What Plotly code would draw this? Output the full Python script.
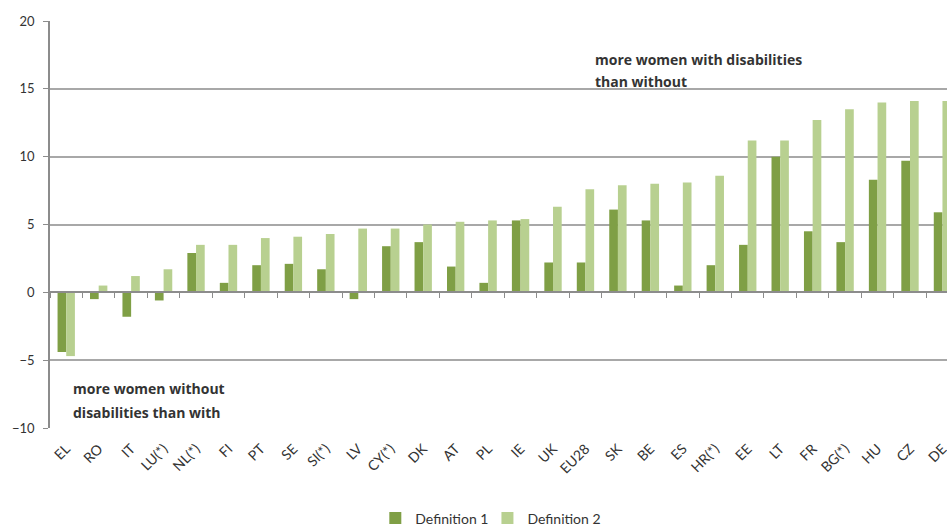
import plotly.graph_objects as go

# Countries, ordered by the Definition 2 gap
countries = ["EL", "RO", "IT", "LU(*)", "NL(*)", "FI", "PT", "SE", "SI(*)", "LV",
             "CY(*)", "DK", "AT", "PL", "IE", "UK", "EU28", "SK", "BE", "ES",
             "HR(*)", "EE", "LT", "FR", "BG(*)", "HU", "CZ", "DE"]

definition_1 = [-4.4, -0.5, -1.8, -0.6, 2.9, 0.7, 2.0, 2.1, 1.7, -0.5,
                3.4, 3.7, 1.9, 0.7, 5.3, 2.2, 2.2, 6.1, 5.3, 0.5,
                2.0, 3.5, 10.0, 4.5, 3.7, 8.3, 9.7, 5.9]

definition_2 = [-4.7, 0.5, 1.2, 1.7, 3.5, 3.5, 4.0, 4.1, 4.3, 4.7,
                4.7, 5.0, 5.2, 5.3, 5.4, 6.3, 7.6, 7.9, 8.0, 8.1,
                8.6, 11.2, 11.2, 12.7, 13.5, 14.0, 14.1, 14.1]

y_ticks = [-10, -5, 0, 5, 10, 15, 20]

DARK = "#7f9f45"
LIGHT = "#b8d090"
GRID = "#a8a8a8"
AXIS = "#8c8c8c"
TEXT = "#333333"
FONT = "Lato"
NOTE_FONT = "Open Sans"

fig = go.Figure()
fig.add_trace(go.Bar(name="Definition 1", x=countries, y=definition_1,
                     marker=dict(color=DARK, line=dict(width=0)), legend="legend"))
fig.add_trace(go.Bar(name="Definition 2", x=countries, y=definition_2,
                     marker=dict(color=LIGHT, line=dict(width=0)), legend="legend2"))
# carrier for the axis drawn along the zero line
fig.add_trace(go.Scatter(x=countries, y=definition_1, mode="none", xaxis="x2",
                         showlegend=False, hoverinfo="skip"))

# the last category runs past the right edge of the plot
x_range = [-0.5, 27.14]
y_min, y_max = -10, 20

legend_style = dict(orientation="h", xanchor="center",
                    yref="container", y=0.0143, yanchor="middle",
                    font=dict(family=FONT, size=14, color=TEXT),
                    itemwidth=30, bgcolor="rgba(0,0,0,0)")

fig.update_layout(
    template="none",
    width=947, height=526,
    margin=dict(l=50, r=0, t=21, b=98, pad=0),
    paper_bgcolor="white", plot_bgcolor="white",
    barmode="group", bargap=0.465, bargroupgap=0,
    font=dict(family=FONT, size=12, color=TEXT),
    xaxis=dict(type="category", categoryarray=countries, range=x_range,
               automargin=False, ticklabelstandoff=9,
               tickangle=-45, tickfont=dict(family=FONT, size=14, color=TEXT),
               showgrid=False, showline=False, ticks="", zeroline=False),
    xaxis2=dict(type="category", categoryarray=countries, range=x_range,
                overlaying="x", anchor="free", automargin=False,
                position=(0 - y_min) / (y_max - y_min),
                showticklabels=False, showgrid=False, zeroline=False,
                showline=True, linecolor=AXIS, linewidth=1.5,
                ticks="outside", tickson="boundaries", ticklen=5,
                tickcolor=AXIS, tickwidth=1),
    yaxis=dict(range=[y_min, y_max], tickvals=y_ticks, automargin=False,
               ticklabelstandoff=6,
               tickfont=dict(family=FONT, size=13, color=TEXT),
               showgrid=True, gridcolor=GRID, gridwidth=1.5,
               zeroline=False, showline=True, linecolor=AXIS, linewidth=1.5,
               ticks="outside", ticklen=5, tickcolor=AXIS, tickwidth=1),
    legend=dict(x=0.429, **legend_style),
    legend2=dict(x=0.554, **legend_style),
    showlegend=True,
)

note_font = dict(family=NOTE_FONT, size=14, color=TEXT, weight="bold")
notes = [
    ("more women with disabilities", 16.23, 17.16),
    ("than without", 16.23, 15.55),
    ("more women without", 0.138, -7.09),
    ("disabilities than with", 0.138, -8.86),
]
for text, xv, yv in notes:
    fig.add_annotation(text=text, x=xv, y=yv, xref="x", yref="y",
                       xanchor="left", yanchor="middle", showarrow=False,
                       font=note_font)

fig.write_html("out.html")
